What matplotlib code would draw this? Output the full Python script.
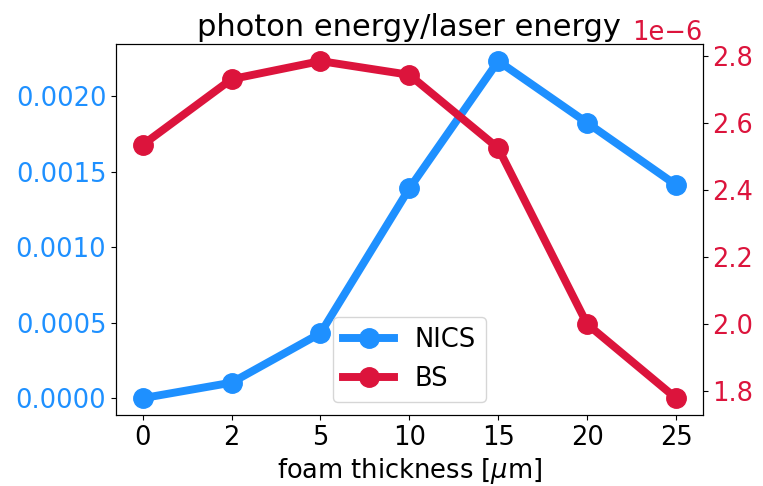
import numpy as np
import matplotlib
matplotlib.use('Agg')
import matplotlib.pyplot as plt

plt.rcParams['font.size'] = 18.5

# foam thickness in um, shown as evenly spaced categories
thickness = ['0', '2', '5', '10', '15', '20', '25']
nics = [0.0, 0.000103, 0.00043, 0.00139, 0.002234, 0.001825, 0.001413]
bs = [2.535e-6, 2.731e-6, 2.785e-6, 2.744e-6, 2.525e-6, 2.0e-6, 1.779e-6]

x = np.arange(len(thickness))

fig = plt.figure(figsize=(7.63, 4.86), dpi=100)
ax = fig.add_axes([0.152, 0.146, 0.769, 0.763])
ax2 = ax.twinx()

l1, = ax.plot(x, nics, 'o-', color='dodgerblue', lw=5.7, ms=14, label='NICS')
l2, = ax2.plot(x, bs, 'o-', color='crimson', lw=5.7, ms=14, label='BS')

ax.set_xticks(x)
ax.set_xticklabels(thickness)
ax.set_xlabel(r'foam thickness [$\mu$m]')
ax.tick_params(axis='y', colors='dodgerblue')
ax.tick_params(axis='y', which='both', color='black')
ax2.tick_params(axis='y', labelcolor='crimson')
ax2.yaxis.get_offset_text().set_color('crimson')
ax.set_title('photon energy/laser energy', fontsize=22)

ax2.legend(handles=[l1, l2], loc='lower center')

fig.savefig('out.png', dpi=100)
